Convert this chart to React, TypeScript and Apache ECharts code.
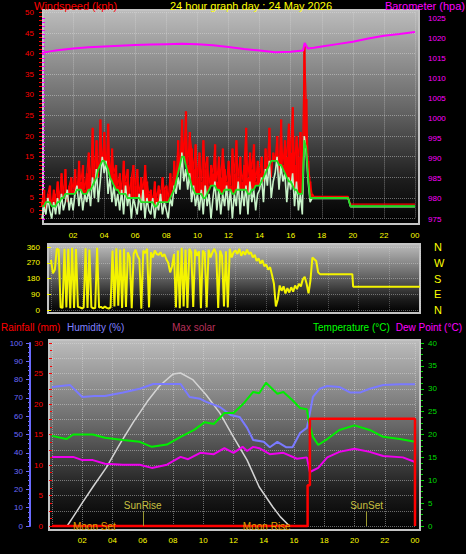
import React, { useEffect, useRef } from 'react';
import * as echarts from 'echarts';

const FONT = '"Liberation Sans", Arial, sans-serif';

// ---------- tick labels ----------
const hourLabels = ['', '02', '04', '06', '08', '10', '12', '14', '16', '18', '20', '22', '00'];
const compassLabels = ['N', 'E', 'S', 'W', 'N']; // 0, 90, 180, 270, 360

// ---------- panel 1 : wind (kph), 7.5 minute samples from 00:00 ----------
const windStepHours = 0.125;
const windGust = [
  4, 7, 2, 6, 8, 3, 7, 5,
  9, 5, 11, 6, 12, 4, 8, 10,
  7, 12, 6, 14, 9, 13, 7, 11,
  16, 9, 22, 11, 19, 10, 24, 13,
  21, 12, 23, 10, 17, 11, 13, 8,
  11, 7, 14, 9, 12, 6, 10, 13,
  8, 12, 6, 10, 7, 13, 9, 6,
  7, 4, 9, 5, 8, 6, 10, 7,
  8, 5, 11, 7, 14, 9, 19, 12,
  24, 15, 26, 13, 21, 17, 12, 18,
  10, 16, 9, 19, 12, 15, 8, 13,
  11, 18, 9, 15, 10, 17, 12, 9,
  14, 8, 17, 11, 19, 10, 15, 9,
  13, 22, 10, 16, 12, 18, 9, 14,
  11, 15, 9, 17, 13, 22, 10, 16,
  14, 20, 11, 24, 13, 19, 15, 23,
  16, 27, 13, 20, 15, 21, 11, 42,
  29, 14, 9, 6, 5.4,
];
const windSpeed = [
  0, 3, 1, 5, 2, 0, 4, 1,
  5, 1, 6, 2, 4, 7, 2, 5,
  2, 6, 8, 3, 7, 2, 6, 4,
  7, 3, 10, 5, 12, 4, 9, 15,
  11, 14, 6, 10, 4, 8, 3, 6,
  2, 7, 1, 8, 3, 6, 0, 5,
  3, 1, 6, 2, 7, 0, 5, 2,
  1, 5, 0, 4, 2, 6, 1, 4,
  2, 0, 5, 3, 8, 6, 10, 7,
  16, 9, 12, 7, 11, 4, 8, 3,
  6, 2, 7, 1, 8, 3, 6, 0,
  5, 9, 2, 7, 1, 6, 3, 8,
  2, 7, 0, 6, 3, 9, 1, 7,
  3, 8, 1, 9, 4, 7, 2, 6,
  7, 10, 4, 12, 8, 14, 5, 9,
  11, 15, 7, 13, 9, 11, 4, 10,
  7, 11, 3, 9, 2, 6, 1, 20,
  16, 9, 4, 4.9, 4.9,
];
const windAvg = [
  3, 3, 4, 4, 4, 3, 3, 3,
  4, 4, 5, 5, 6, 6, 6, 6,
  6, 6, 7, 7, 7, 6, 6, 6,
  7, 7, 8, 9, 10, 12, 13, 14,
  14, 13, 12, 10, 9, 8, 7, 7,
  6, 6, 6, 6, 5, 5, 5, 5,
  5, 5, 5, 4, 4, 4, 4, 4,
  4, 4, 3, 3, 4, 4, 4, 4,
  4, 4, 5, 6, 7, 9, 11, 13,
  15, 15, 13, 11, 10, 8, 7, 6,
  6, 6, 6, 5, 5, 6, 7, 8,
  8, 8, 7, 7, 6, 6, 7, 7,
  7, 7, 6, 6, 7, 7, 7, 7,
  7, 7, 6, 6, 7, 7, 8, 8,
  8, 9, 10, 11, 12, 13, 14, 14,
  14, 14, 13, 13, 12, 11, 10, 9,
  9, 8, 7, 7, 6, 6, 6, 19,
  17, 10, 5, 5.0, 5.0,
];
const windTailHours = [19.7, 19.85, 24];
const windGustTail = [5.4, 3.5, 3.5];
const windSpeedTail = [4.9, 2.9, 2.9];
const windAvgTail = [5.0, 3.0, 3.0];

// ---------- panel 1 : barometer (hPa) ----------
const baroHours = [0, 0.5, 1, 2, 3, 4, 5, 6, 7, 8, 9, 10, 11, 12, 13, 14, 15, 16, 16.8, 16.9, 17.1, 17.5, 18, 19, 20, 21, 22, 23, 24];
const baroValues = [1016.3, 1016.7, 1017.0, 1017.4, 1017.7, 1017.9, 1018.1, 1018.3, 1018.4, 1018.5, 1018.6, 1018.5, 1018.2, 1017.8, 1017.3, 1016.9, 1016.5, 1016.6, 1016.9, 1018.8, 1017.4, 1017.6, 1017.9, 1018.5, 1019.1, 1019.9, 1020.6, 1021.0, 1021.5];

// ---------- panel 2 : wind direction (deg), 7.5 minute samples ----------
const dirValues = [
  286, 210, 230, 350, 345, 15, 12, 350,
  15, 350, 10, 355, 12, 348, 18, 15,
  10, 14, 352, 12, 345, 16, 10, 12,
  355, 14, 18, 10, 20, 12, 8, 15,
  340, 20, 352, 25, 345, 12, 350, 18,
  330, 300, 10, 320, 345, 310, 290, 8,
  340, 325, 350, 15, 330, 300, 340, 320,
  315, 330, 305, 320, 290, 270, 215, 250,
  320, 15, 340, 10, 355, 20, 345, 12,
  350, 330, 18, 345, 310, 335, 10, 340,
  325, 15, 345, 300, 330, 350, 320, 12,
  340, 310, 20, 335, 15, 350, 300, 330,
  340, 320, 350, 310, 335, 315, 345, 320,
  330, 300, 315, 280, 295, 265, 285, 250,
  260, 230, 245, 200, 150, 20, 60, 140,
  110, 135, 95, 125, 100, 130, 105, 140,
  120, 150, 135, 175, 190, 150, 95, 170,
  300, 290, 280, 215, 205,
];
const dirTailHours = [19.6, 19.65, 24];
const dirTail = [205, 133, 133];

// ---------- panel 3 ----------
const humHours = [0, 1.2, 2, 2.8, 3.5, 4.7, 5.8, 6.7, 7.5, 8.5, 9.1, 9.8, 10.2, 11.1, 11.8, 12.4, 12.9, 13.3, 14, 14.4, 14.9, 15.5, 15.9, 16.4, 16.85, 17.05, 17.25, 17.7, 18.2, 19, 19.7, 20.4, 21, 21.9, 23, 24];
const humValues = [76, 77, 70.5, 71, 71, 73, 75, 77.6, 77.6, 77.6, 70.5, 69.5, 67.8, 65, 60.7, 59.6, 53.6, 47, 46, 43, 46, 43, 43, 50.8, 53.6, 61.7, 70.5, 75, 76.5, 76, 73, 73, 75, 77, 77.5, 77.5];

const tempHours = [0, 0.95, 1.4, 2.7, 3.5, 4.7, 5.8, 6.6, 7.6, 8.5, 9.4, 10.1, 10.7, 11.4, 12, 12.7, 13.3, 13.7, 14.15, 14.9, 15.3, 15.9, 16.4, 16.85, 17, 17.25, 17.6, 18.2, 19, 20, 21, 21.9, 23, 24];
const tempValues = [19.7, 19, 20, 20, 19.3, 18.8, 18.4, 17.3, 17.8, 19.5, 21, 22.7, 22.3, 24.7, 24.7, 26.9, 29.3, 29, 31.3, 28.9, 29.3, 27.5, 25.8, 25.5, 22.5, 19.5, 17.7, 19, 21, 22, 21, 19.5, 19, 18.4];

const dewHours = [0, 1.4, 2, 2.7, 3.5, 4.7, 5.8, 6.6, 7.6, 8.5, 9, 9.8, 10.7, 11.4, 12, 12.6, 12.9, 13.3, 13.7, 14.4, 15.3, 16.2, 16.85, 17.05, 17.6, 18.2, 19, 20, 21, 21.9, 23.2, 24];
const dewValues = [15.1, 15.1, 14.4, 14.4, 13.6, 13.4, 13.4, 12.7, 13.4, 15.1, 14.6, 16, 15.7, 17, 16, 17.3, 16.4, 17.3, 17, 15.7, 16, 14.7, 15, 11.8, 12.7, 15, 16.2, 16.9, 16.2, 15.3, 15, 14];

const rainHours = [0, 16.9, 16.9, 17.05, 17.05, 24, 24];
const rainValues = [0, 0, 6.7, 6.7, 17.6, 17.6, 0];

const solarHours = [0, 1.0, 1.4, 2, 2.7, 3.6, 4.5, 5.4, 6.3, 7.1, 8, 8.5, 9.3, 10.2, 11.1, 12, 12.9, 13.7, 14.6, 15.1, 15.7];
const solarValues = [0, 0, 5, 12.6, 21.3, 32, 45, 57, 68, 76.5, 83, 83.6, 80, 71.6, 61.7, 48.6, 36, 21.3, 10.4, 5, 0];

const sunNames = ['SunRise', 'SunSet'];
const sunHours = [6.0, 20.8];
const moonNames = ['Moon Set', 'Moon Rise'];
const moonHours = [2.8, 14.2];

const pairs = (xs: number[], ys: number[]) => xs.map((x, i) => [x, ys[i]]);
const stepped = (vals: number[], step: number, tailH: number[], tailV: number[]) =>
  vals.map((v, i) => [i * step, v]).concat(pairs(tailH, tailV));

const gridLine = { show: true, lineStyle: { color: 'rgba(225,225,225,0.45)', type: 'dotted' as const, width: 1 } };
const plain = (v: number) => String(v);

function bgRect(x: number, y: number, w: number, h: number) {
  return {
    type: 'rect',
    z: -10,
    silent: true,
    shape: { x, y, width: w, height: h },
    style: {
      fill: new echarts.graphic.LinearGradient(0, 0, 0, 1, [
        { offset: 0, color: '#bcbcbc' },
        { offset: 0.45, color: '#686868' },
        { offset: 0.8, color: '#1c1c1c' },
        { offset: 1, color: '#000000' },
      ]),
      stroke: '#c4c4c4',
      lineWidth: 2,
    },
  };
}

function label(text: string, x: number, y: number, fill: string, size: number, align: string) {
  return {
    type: 'text',
    z: 100,
    x,
    y,
    style: { text, fill, font: `${size}px ${FONT}`, align, verticalAlign: 'middle' },
  };
}

function yAxisBase(color: string) {
  return {
    type: 'value' as const,
    axisLine: { show: false },
    axisTick: { show: true, length: 3, lineStyle: { color } },
    minorTick: { show: true, splitNumber: 5, length: 3, lineStyle: { color } },
    axisLabel: { color, fontSize: 8, fontFamily: FONT, formatter: plain },
    splitLine: { show: false },
  };
}

// red band between the average and the gust for each sample
function gustBand(params: any, api: any) {
  const t = api.value(0);
  const lo = api.coord([t, api.value(1)]);
  const hi = api.coord([t, api.value(2)]);
  const w = api.size([windStepHours, 0])[0];
  if (hi[1] >= lo[1]) return null;
  return {
    type: 'rect',
    shape: { x: hi[0] - w / 2, y: hi[1], width: w + 0.4, height: lo[1] - hi[1] },
    style: { fill: '#ff0000' },
  };
}

function buildOption() {
  return {
    animation: false,
    backgroundColor: '#000000',
    graphic: [
      bgRect(43, 10, 376, 214),
      bgRect(48, 244, 372, 69),
      bgRect(49, 340, 371, 190),
      label('Windspeed (kph)', 34, 6, '#ff0000', 11, 'left'),
      label('24 hour graph day : 24 May 2026', 251, 6, '#ffff00', 11, 'center'),
      label('Barometer (hpa)', 465, 6, '#ff00ff', 11, 'right'),
      label('Rainfall (mm)', 1, 327, '#ff0000', 10, 'left'),
      label('Humidity (%)', 67, 327, '#8080ff', 10, 'left'),
      label('Max solar', 172, 327, '#b8305a', 10, 'left'),
      label('Temperature (°C)', 313, 327, '#00ff00', 10, 'left'),
      label('Dew Point (°C)', 462, 327, '#ff00ff', 10, 'right'),
    ],
    grid: [
      { left: 42, right: 51, top: 12.4, height: 206.2 },
      { left: 42, right: 51, top: 18, height: 201 },
      { left: 51, right: 46, top: 247, height: 63 },
      { left: 52, right: 51, top: 343, height: 183 },
    ],
    xAxis: [
      {
        gridIndex: 0, type: 'value', min: 0, max: 24, interval: 2,
        axisLine: { show: false }, axisTick: { show: false },
        axisLabel: { color: '#ffff00', fontSize: 8, fontFamily: FONT, margin: 13, formatter: (v: number) => hourLabels[Math.round(v / 2)] ?? '' },
        splitLine: gridLine,
      },
      { gridIndex: 1, type: 'value', min: 0, max: 24, show: false },
      {
        gridIndex: 2, type: 'value', min: 0, max: 24, interval: 2,
        axisLine: { show: false }, axisTick: { show: false }, axisLabel: { show: false },
        splitLine: { show: true, lineStyle: { color: 'rgba(225,225,225,0.3)', type: 'dotted' } },
      },
      {
        gridIndex: 3, type: 'value', min: 0, max: 24, interval: 2,
        axisLine: { show: false }, axisTick: { show: false },
        axisLabel: { color: '#ffff00', fontSize: 8, fontFamily: FONT, margin: 10, formatter: (v: number) => hourLabels[Math.round(v / 2)] ?? '' },
        splitLine: gridLine,
      },
    ],
    yAxis: [
      {
        ...yAxisBase('#ff0000'), gridIndex: 0, position: 'left', offset: 1, min: 0, max: 50, interval: 5,
        axisLabel: {
          color: '#ff0000', fontSize: 8, fontFamily: FONT, margin: 7,
          formatter: (v: number) => (v === 0 ? '{z|0}' : String(v)),
          rich: { z: { color: '#ff0000', fontSize: 8, fontFamily: FONT, padding: [0, 0, 16, 0] } },
        },
        splitLine: gridLine,
      },
      { ...yAxisBase('#ff00ff'), gridIndex: 1, position: 'right', offset: 5, min: 975, max: 1025, interval: 5, axisLabel: { color: '#ff00ff', fontSize: 8, fontFamily: FONT, margin: 8, formatter: plain } },
      {
        ...yAxisBase('#ffff00'), gridIndex: 2, position: 'left', offset: 4, min: 0, max: 360, interval: 90,
        minorTick: { show: false },
        axisTick: { show: true, length: 4, lineStyle: { color: '#ffff00' } },
        axisLabel: { color: '#ffff00', fontSize: 8, fontFamily: FONT, margin: 7, formatter: plain },
        splitLine: { show: true, lineStyle: { color: 'rgba(225,225,225,0.4)', type: 'dotted' } },
      },
      {
        type: 'value', gridIndex: 2, position: 'right', min: 0, max: 360, interval: 90,
        axisLine: { show: false }, axisTick: { show: false }, splitLine: { show: false },
        axisLabel: { color: '#ffff00', fontSize: 11, fontFamily: FONT, margin: 14, formatter: (v: number) => compassLabels[Math.round(v / 90)] ?? '' },
      },
      {
        ...yAxisBase('#ff0000'), gridIndex: 3, position: 'left', offset: 3, min: 0, max: 30, interval: 2.5,
        minorTick: { show: true, splitNumber: 2, length: 2, lineStyle: { color: '#ff0000' } },
        axisLabel: { color: '#ff0000', fontSize: 8, fontFamily: FONT, margin: 6, formatter: (v: number) => (v % 5 === 0 ? String(v) : '') },
        splitLine: gridLine,
      },
      {
        ...yAxisBase('#6a6aff'), gridIndex: 3, position: 'left', offset: 22, min: 0, max: 100, interval: 10,
        axisLine: { show: true, lineStyle: { color: '#6a6aff', width: 2 } },
        axisTick: { show: true, length: 4, lineStyle: { color: '#6a6aff' } },
        minorTick: { show: true, splitNumber: 4, length: 2, lineStyle: { color: '#6a6aff' } },
        axisLabel: { color: '#6a6aff', fontSize: 8, fontFamily: FONT, margin: 7, formatter: plain },
      },
      {
        ...yAxisBase('#00dd00'), gridIndex: 3, position: 'right', offset: 6, min: 0, max: 40, interval: 5,
        minorTick: { show: true, splitNumber: 4, length: 2, lineStyle: { color: '#00dd00' } },
        axisLabel: { color: '#00dd00', fontSize: 8, fontFamily: FONT, margin: 7, formatter: plain },
      },
      { type: 'value', gridIndex: 3, min: 0, max: 100, show: false },
    ],
    series: [
      {
        name: 'GustBand', type: 'custom', xAxisIndex: 0, yAxisIndex: 0, silent: true,
        renderItem: gustBand,
        encode: { x: 0, y: [1, 2] },
        data: windGust.map((g, i) => [i * windStepHours, windAvg[i], g]),
      },
      { name: 'Gust', type: 'line', xAxisIndex: 0, yAxisIndex: 0, symbol: 'none', lineStyle: { color: '#ff0000', width: 1.2 }, data: stepped(windGust, windStepHours, windTailHours, windGustTail) },
      { name: 'Wind', type: 'line', xAxisIndex: 0, yAxisIndex: 0, symbol: 'none', lineStyle: { color: '#c8f2c8', width: 1.6 }, data: stepped(windSpeed, windStepHours, windTailHours, windSpeedTail) },
      { name: 'Average', type: 'line', xAxisIndex: 0, yAxisIndex: 0, symbol: 'none', lineStyle: { color: '#22dd22', width: 1.8 }, data: stepped(windAvg, windStepHours, windTailHours, windAvgTail) },
      { name: 'Barometer', type: 'line', xAxisIndex: 1, yAxisIndex: 1, symbol: 'none', lineStyle: { color: '#ff00ff', width: 2 }, data: pairs(baroHours, baroValues) },
      { name: 'Direction', type: 'line', xAxisIndex: 2, yAxisIndex: 2, symbol: 'none', lineStyle: { color: '#f4f400', width: 2 }, data: stepped(dirValues, windStepHours, dirTailHours, dirTail) },
      { name: 'Max solar', type: 'line', xAxisIndex: 3, yAxisIndex: 7, symbol: 'none', lineStyle: { color: '#d4d4d4', width: 1.5 }, data: pairs(solarHours, solarValues), clip: false },
      { name: 'Humidity', type: 'line', xAxisIndex: 3, yAxisIndex: 5, symbol: 'none', lineStyle: { color: '#7a7aff', width: 2 }, data: pairs(humHours, humValues) },
      {
        name: 'Temperature', type: 'line', xAxisIndex: 3, yAxisIndex: 6, symbol: 'none', lineStyle: { color: '#00ee00', width: 2 }, data: pairs(tempHours, tempValues),
        markLine: {
          silent: true, symbol: ['none', 'none'],
          lineStyle: { color: '#9c9a30', width: 1, type: 'solid' },
          label: { show: true, position: 'end', formatter: '{b}', color: '#c8c040', fontSize: 10, fontFamily: FONT, distance: 1 },
          data: sunHours.map((h, i) => [{ name: sunNames[i], coord: [h, 0] }, { coord: [h, 3.2] }]),
        },
        markPoint: {
          silent: true, symbol: 'rect', symbolSize: 1, itemStyle: { color: 'rgba(0,0,0,0)' },
          label: { show: true, position: 'inside', formatter: '{b}', color: '#e0a400', fontSize: 10, fontFamily: FONT },
          data: moonHours.map((h, i) => ({ name: moonNames[i], coord: [h, 0] })),
        },
      },
      { name: 'Dew Point', type: 'line', xAxisIndex: 3, yAxisIndex: 6, symbol: 'none', lineStyle: { color: '#ee00ee', width: 2 }, data: pairs(dewHours, dewValues) },
      { name: 'Rainfall', type: 'line', xAxisIndex: 3, yAxisIndex: 4, symbol: 'none', clip: false, z: 3, lineStyle: { color: '#ff0000', width: 2.5 }, data: pairs(rainHours, rainValues) },
    ],
  };
}

export default function App() {
  const ref = useRef<HTMLDivElement>(null);
  useEffect(() => {
    document.body.style.margin = '0';
    document.body.style.background = '#000';
    const chart = echarts.init(ref.current!, null, { renderer: 'svg' });
    chart.setOption(buildOption() as any);
    return () => chart.dispose();
  }, []);
  return <div ref={ref} style={{ position: 'absolute', left: 0, top: 0, width: 466, height: 554, background: '#000' }} />;
}
